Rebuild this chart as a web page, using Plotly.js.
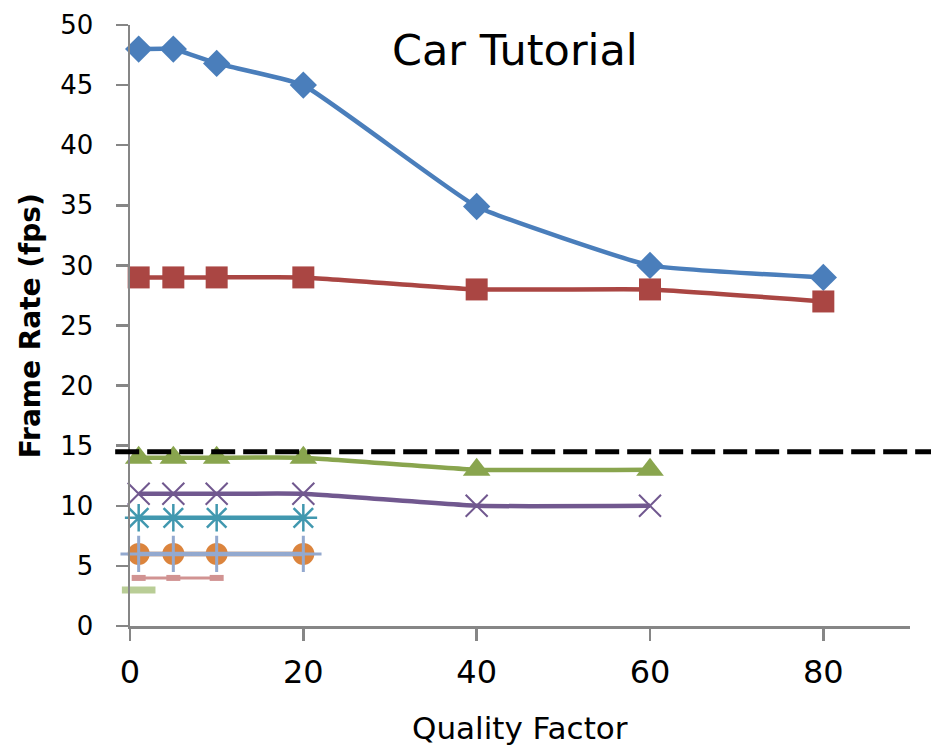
<!DOCTYPE html>
<html>
<head>
<meta charset="utf-8">
<script src="https://cdn.plot.ly/plotly-3.0.1.min.js"></script>
<style>html,body{margin:0;padding:0;background:#fff;}#chart{width:931px;height:748px;}</style>
</head>
<body>
<div id="chart"></div>
<script>
// Quality factor settings per series
const qAll   = [1, 5, 10, 20, 40, 60, 80];
const qMid   = [1, 5, 10, 20, 40, 60];
const qLow   = [1, 5, 10, 20];
const qTiny  = [1, 5, 10];
const qOne   = [1];

// Frame rates (fps)
const fps1 = [48, 48, 46.8, 45, 34.9, 30, 29];
const fps2 = [29, 29, 29, 29, 28, 28, 27];
const fps3 = [14, 14, 14, 14, 13, 13];
const fps4 = [11, 11, 11, 11, 10, 10];
const fps5 = [9, 9, 9, 9];
const fps6 = [6, 6, 6, 6];
const fps7 = [6, 6, 6, 6];
const fps8 = [4, 4, 4];
const fps9 = [3];

// Real-time threshold
const threshold = 14.5;

const yTicks = [0, 5, 10, 15, 20, 25, 30, 35, 40, 45, 50];
const xTicks = [0, 20, 40, 60, 80];

function series(x, y, color, symbol, size, mline) {
  return {
    x: x, y: y, type: 'scatter', mode: 'lines+markers',
    line: {color: color, width: 4.5, shape: 'spline', smoothing: 0.35},
    marker: {color: color, symbol: symbol, size: size,
             line: {color: color, width: mline || 0}},
    cliponaxis: false, showlegend: false, hoverinfo: 'skip'
  };
}

const traces = [
  series(qAll, fps1, '#4A7EBB', 'diamond', 21),
  series(qAll, fps2, '#AA4643', 'square', 22),
  series(qMid, fps3, '#89A54E', 'triangle-up', 24),
  series(qMid, fps4, '#71588F', 'x-thin', 22, 2),
  series(qLow, fps5, '#4198AF', 'asterisk', 23, 2.5),
  series(qLow, fps6, '#DB843D', 'circle', 22),
  series(qLow, fps7, '#93A9CF', 'cross-thin', 26, 3),
  series(qTiny, fps8, '#D19392', 'line-ew', 10, 6),
  series(qOne, fps9, '#B9CD96', 'line-ew', 24, 7)
];
traces[7].line.width = 3;

const axisCommon = {
  showgrid: false, zeroline: false, showline: true, linecolor: '#868686', linewidth: 2.5,
  ticks: 'outside', ticklen: 12, tickwidth: 2.5, tickcolor: '#868686'
};

const layout = {
  width: 931, height: 748,
  margin: {l: 130, r: 21, t: 25, b: 122},
  paper_bgcolor: '#ffffff', plot_bgcolor: '#ffffff',
  font: {family: 'DejaVu Sans, sans-serif', color: '#000'},
  xaxis: Object.assign({}, axisCommon, {
    range: [0, 90], tickvals: xTicks, ticktext: xTicks.map(String),
    tickfont: {size: 32, family: 'DejaVu Sans, sans-serif'},
    ticklabelstandoff: 4
  }),
  yaxis: Object.assign({}, axisCommon, {
    range: [0, 50], tickvals: yTicks, ticktext: yTicks.map(String),
    tickfont: {size: 26, family: 'DejaVu Sans, sans-serif'},
    ticklabelstandoff: 17
  }),
  shapes: [{
    type: 'line', xref: 'paper', yref: 'y',
    x0: -0.019, x1: 1.03, y0: threshold, y1: threshold,
    line: {color: '#000', width: 5, dash: '24px,8px'}, layer: 'above'
  }],
  annotations: [
    {
      text: 'Car Tutorial', xref: 'paper', yref: 'paper', x: 0.494, y: 0.958,
      xanchor: 'center', yanchor: 'middle', showarrow: false,
      font: {size: 43, family: 'DejaVu Sans, sans-serif', color: '#000'}
    },
    {
      text: '<b>Frame Rate (fps)</b>', xref: 'paper', yref: 'paper',
      x: -0.128, y: 0.499, xanchor: 'center', yanchor: 'middle', textangle: -90,
      showarrow: false, font: {size: 28, family: 'DejaVu Sans, sans-serif', color: '#000'}
    },
    {
      text: 'Quality Factor', xref: 'paper', yref: 'paper',
      x: 0.5, y: -0.17, xanchor: 'center', yanchor: 'middle',
      showarrow: false, font: {size: 31, family: 'DejaVu Sans, sans-serif', color: '#000'}
    }
  ]
};

Plotly.newPlot('chart', traces, layout, {displayModeBar: false, staticPlot: true});
</script>
</body>
</html>
